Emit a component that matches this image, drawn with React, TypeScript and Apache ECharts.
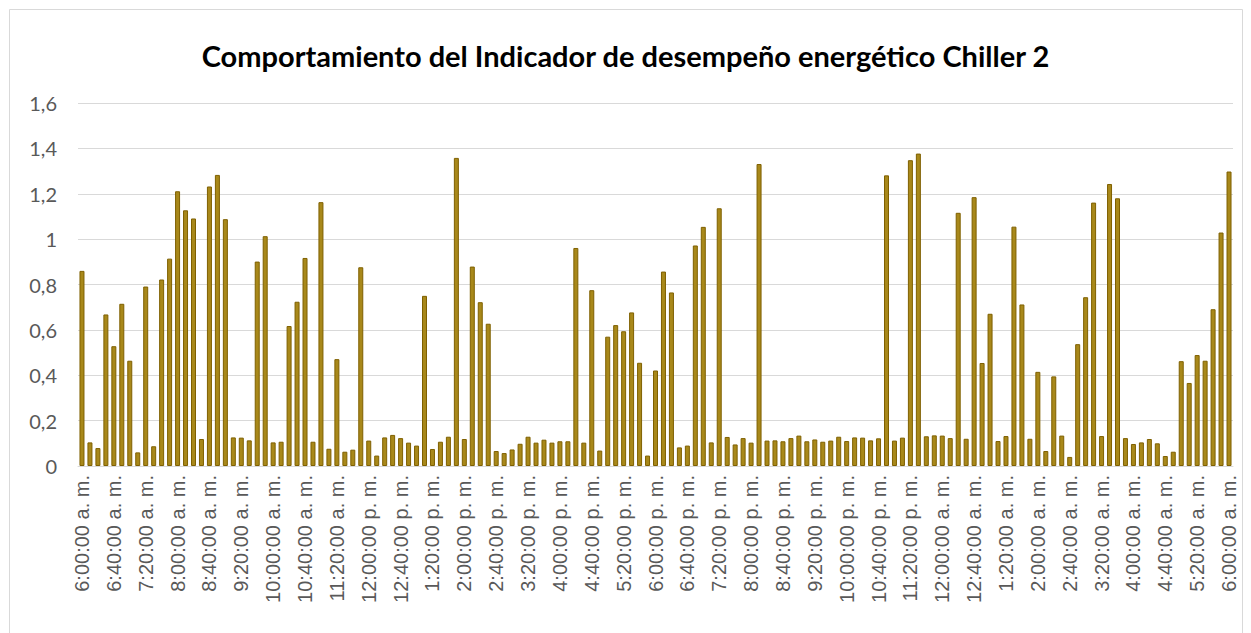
import React, { useEffect, useRef } from "react";
import * as echarts from "echarts";

const chartTitle = "Comportamiento del Indicador de desempeño energético Chiller 2";

// 10-minute steps from 6:00:00 a. m. to 6:00:00 a. m. of the next day
const startMinutes = 360;
const stepMinutes = 10;
const categoryCount = 145;

function timeLabel(totalMinutes: number): string {
  const h24 = Math.floor(totalMinutes / 60) % 24;
  const m = totalMinutes % 60;
  const suffix = h24 < 12 ? "a. m." : "p. m.";
  const h12 = h24 % 12 === 0 ? 12 : h24 % 12;
  return `${h12}:${String(m).padStart(2, "0")}:00 ${suffix}`;
}

const categories: string[] = [];
for (let i = 0; i < categoryCount; i++) categories.push(timeLabel(startMinutes + i * stepMinutes));

const valuesMorning = [
  0.86, 0.104, 0.079, 0.668, 0.528, 0.715, 0.464, 0.06, 0.791, 0.087,
  0.822, 0.914, 1.211, 1.127, 1.091, 0.119, 1.232, 1.283, 1.088, 0.126,
  0.125, 0.113, 0.901, 1.013, 0.104, 0.107, 0.617, 0.724, 0.917, 0.107,
  1.163, 0.076, 0.471, 0.063, 0.072, 0.876,
];
const valuesAfternoon = [
  0.112, 0.046, 0.126, 0.137, 0.123, 0.103, 0.09, 0.75, 0.075, 0.107,
  0.129, 1.358, 0.119, 0.879, 0.722, 0.627, 0.066, 0.057, 0.073, 0.098,
  0.129, 0.103, 0.116, 0.103, 0.109, 0.109, 0.961, 0.103, 0.775, 0.068,
  0.57, 0.621, 0.594, 0.677, 0.455, 0.046,
];
const valuesEvening = [
  0.421, 0.857, 0.765, 0.082, 0.09, 0.972, 1.054, 0.104, 1.136, 0.128,
  0.095, 0.123, 0.103, 1.331, 0.112, 0.113, 0.109, 0.123, 0.134, 0.109,
  0.117, 0.107, 0.112, 0.129, 0.11, 0.126, 0.125, 0.113, 0.122, 1.281,
  0.112, 0.125, 1.348, 1.377, 0.131, 0.135,
];
const valuesNight = [
  0.134, 0.123, 1.116, 0.12, 1.185, 0.454, 0.671, 0.11, 0.132, 1.055,
  0.712, 0.12, 0.415, 0.066, 0.395, 0.134, 0.04, 0.537, 0.744, 1.161,
  0.132, 1.243, 1.18, 0.123, 0.097, 0.104, 0.119, 0.1, 0.044, 0.063,
  0.462, 0.366, 0.489, 0.464, 0.691, 1.029, 1.298,
];
const indicatorValues = [...valuesMorning, ...valuesAfternoon, ...valuesEvening, ...valuesNight];

const yMin = 0;
const yMax = 1.6;
const yInterval = 0.2;

export default function App() {
  const ref = useRef<HTMLDivElement>(null);
  useEffect(() => {
    if (!ref.current) return;
    const chart = echarts.init(ref.current, undefined, { renderer: "svg" });
    chart.setOption({
      animation: false,
      backgroundColor: "#ffffff",
      title: {
        text: chartTitle,
        left: "center",
        top: 36,
        textStyle: { fontFamily: "Lato", fontWeight: "bold", fontSize: 29, color: "#000000" },
      },
      graphic: [
        {
          type: "rect",
          shape: { x: 9.5, y: 9.5, width: 1233, height: 650 },
          style: { fill: "none", stroke: "#d9d9d9", lineWidth: 1 },
          silent: true,
        },
      ],
      grid: { left: 78, right: 18, top: 103, bottom: 167, containLabel: false },
      xAxis: {
        type: "category",
        data: categories,
        axisLine: { lineStyle: { color: "#d9d9d9", width: 1 } },
        axisTick: { show: false },
        axisLabel: {
          interval: 3,
          rotate: 90,
          margin: 9,
          fontFamily: "Liberation Sans",
          fontSize: 20,
          color: "#595959",
        },
      },
      yAxis: {
        type: "value",
        min: yMin,
        max: yMax,
        interval: yInterval,
        axisLine: { show: false },
        axisTick: { show: false },
        splitLine: { lineStyle: { color: "#d9d9d9", width: 1 } },
        axisLabel: {
          margin: 21,
          fontFamily: "Lato",
          fontSize: 20,
          color: "#595959",
          formatter: (v: number) => String(Math.round(v * 10) / 10).replace(".", ","),
        },
      },
      series: [
        {
          type: "bar",
          data: indicatorValues,
          barWidth: 5,
          itemStyle: { color: "#A8881A", borderColor: "#7F6000", borderWidth: 1 },
        },
      ],
    });
    return () => chart.dispose();
  }, []);
  return (
    <div
      ref={ref}
      style={{ position: "fixed", left: 0, top: 0, width: 1251, height: 633 }}
    />
  );
}
